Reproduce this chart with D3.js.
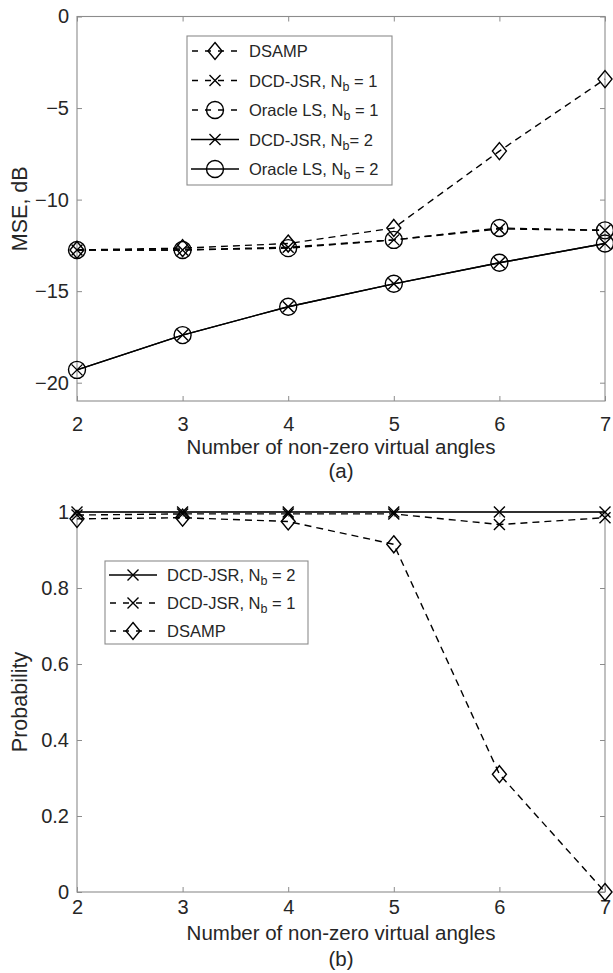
<!DOCTYPE html>
<html><head><meta charset="utf-8">
<script src="https://cdn.jsdelivr.net/npm/d3@7"></script>
<style>body{margin:0;background:#fff;} svg{display:block;} text{font-family:"Liberation Sans",Arial,sans-serif;fill:#262626;}</style>
</head><body>
<svg id="c" width="613" height="973"></svg>
<script>
const xVals = [2, 3, 4, 5, 6, 7];
// (a) MSE, dB
const mseDSAMP = [-12.75, -12.65, -12.4, -11.55, -7.35, -3.42];
const mseDCD1 = [-12.75, -12.75, -12.6, -12.2, -11.6, -11.68];
const mseOLS1 = [-12.75, -12.75, -12.65, -12.2, -11.55, -11.68];
const mseDCD2 = [-19.3, -17.4, -15.85, -14.6, -13.45, -12.4];
const mseOLS2 = [-19.3, -17.4, -15.85, -14.6, -13.45, -12.4];
const mseTicks = [0, -5, -10, -15, -20];
// (b) Probability
const probDCD2 = [1, 1, 1, 1, 1, 1];
const probDCD1 = [0.992, 0.995, 0.995, 0.995, 0.967, 0.985];
const probDSAMP = [0.982, 0.985, 0.975, 0.915, 0.31, 0.0];
const probTicks = [0, 0.2, 0.4, 0.6, 0.8, 1];

const svg = d3.select("#c");
const DASH = "7,5";

function marker(g, type, cx, cy) {
  if (type === "diamond") {
    g.append("path").attr("d", `M${cx},${cy-8.5}L${cx+7},${cy}L${cx},${cy+8.5}L${cx-7},${cy}Z`)
      .attr("fill", "none").attr("stroke", "#000").attr("stroke-width", 1.4);
  } else if (type === "x") {
    const s = 5.5;
    g.append("path").attr("d", `M${cx-s},${cy-s}L${cx+s},${cy+s}M${cx-s},${cy+s}L${cx+s},${cy-s}`)
      .attr("stroke", "#000").attr("stroke-width", 1.4).attr("fill", "none");
  } else if (type === "circle") {
    g.append("circle").attr("cx", cx).attr("cy", cy).attr("r", 8.5)
      .attr("fill", "none").attr("stroke", "#000").attr("stroke-width", 1.4);
  }
}

function panel(opt) {
  const {top, bottom, domain, ticks, series, ylabel, xlabY, xtlY, capY, caption, legend, tickFmt} = opt;
  const x = d3.scaleLinear().domain([2, 7]).range([77, 605]);
  const y = d3.scaleLinear().domain(domain).range([bottom, top]);
  const g = svg.append("g");
  g.append("rect").attr("x", 77).attr("y", top).attr("width", 528).attr("height", bottom - top)
    .attr("fill", "none").attr("stroke", "#8c8c8c").attr("stroke-width", 1.1);
  const ax = g.append("g").attr("transform", `translate(0,${bottom})`)
    .call(d3.axisBottom(x).tickValues(xVals).tickSizeInner(-5).tickSizeOuter(0).tickPadding(16).tickFormat(d3.format("d")));
  ax.select(".domain").remove();
  ax.selectAll("line").attr("stroke", "#8c8c8c");
  ax.selectAll("text").attr("font-size", 20).attr("fill", "#262626").attr("dy", null)
    .attr("y", xtlY - bottom).attr("dominant-baseline", "central");
  const axT = g.append("g").attr("transform", `translate(0,${top})`)
    .call(d3.axisTop(x).tickValues(xVals).tickSizeInner(-5).tickSizeOuter(0).tickFormat(""));
  axT.select(".domain").remove(); axT.selectAll("line").attr("stroke", "#8c8c8c");
  const ay = g.append("g").attr("transform", `translate(77,0)`)
    .call(d3.axisLeft(y).tickValues(ticks).tickSizeInner(-5).tickSizeOuter(0).tickPadding(8).tickFormat(tickFmt));
  ay.select(".domain").remove();
  ay.selectAll("line").attr("stroke", "#8c8c8c");
  ay.selectAll("text").attr("font-size", 20).attr("fill", "#262626");
  const ayR = g.append("g").attr("transform", `translate(605,0)`)
    .call(d3.axisRight(y).tickValues(ticks).tickSizeInner(-5).tickSizeOuter(0).tickFormat(""));
  ayR.select(".domain").remove(); ayR.selectAll("line").attr("stroke", "#8c8c8c");
  g.append("text").attr("x", 341).attr("y", xlabY).attr("text-anchor", "middle").attr("dominant-baseline", "central")
    .attr("font-size", 20.5).text("Number of non-zero virtual angles");
  g.append("text").attr("x", 341).attr("y", capY).attr("text-anchor", "middle").attr("dominant-baseline", "central")
    .attr("font-size", 20.5).text(caption);
  g.append("text").attr("transform", `translate(20,${(top + bottom) / 2}) rotate(-90)`).attr("text-anchor", "middle")
    .attr("dominant-baseline", "central").attr("font-size", 21.5).text(ylabel);
  const line = d3.line().x((d, i) => x(xVals[i])).y(d => y(d));
  series.forEach(s => {
    g.append("path").datum(s.values).attr("d", line).attr("fill", "none").attr("stroke", "#000")
      .attr("stroke-width", 1.4).attr("stroke-dasharray", s.dash ? DASH : null);
  });
  series.forEach(s => {
    s.values.forEach((v, i) => marker(g, s.marker, x(xVals[i]), y(v)));
  });
  const L = legend;
  const lg = g.append("g");
  lg.append("rect").attr("x", L.x).attr("y", L.y).attr("width", L.w).attr("height", L.h)
    .attr("fill", "#fff").attr("stroke", "#8c8c8c").attr("stroke-width", 1.1);
  L.items.forEach((it, i) => {
    const cy = L.y + L.pad + i * L.step;
    lg.append("line").attr("x1", L.x + 4).attr("x2", L.x + 52).attr("y1", cy).attr("y2", cy)
      .attr("stroke", "#000").attr("stroke-width", 1.4).attr("stroke-dasharray", it.dash ? "6,7" : null)
      .attr("stroke-dashoffset", it.dash ? -1 : null);
    marker(lg, it.marker, L.x + 28, cy);
    const t = lg.append("text").attr("x", L.x + 62).attr("y", cy).attr("dominant-baseline", "central").attr("font-size", 16.5);
    t.append("tspan").text(it.label);
    if (it.sub) {
      t.append("tspan").attr("font-size", 12.5).attr("dy", 6).text(it.sub);
      t.append("tspan").attr("dy", -6).text(it.post);
    }
  });
}

panel({
  top: 16.5, bottom: 401, domain: [-21, 0], ticks: mseTicks, ylabel: "MSE, dB",
  xtlY: 424, xlabY: 446, capY: 470, caption: "(a)", tickFmt: d3.format("d"),
  series: [
    {values: mseDSAMP, dash: true, marker: "diamond"},
    {values: mseDCD1, dash: true, marker: "x"},
    {values: mseOLS1, dash: true, marker: "circle"},
    {values: mseDCD2, dash: false, marker: "x"},
    {values: mseOLS2, dash: false, marker: "circle"}
  ],
  legend: {x: 187, y: 36, w: 205, h: 149, pad: 15, step: 29.5, items: [
    {label: "DSAMP", dash: true, marker: "diamond"},
    {label: "DCD-JSR, N", sub: "b", post: " = 1", dash: true, marker: "x"},
    {label: "Oracle LS, N", sub: "b", post: " = 1", dash: true, marker: "circle"},
    {label: "DCD-JSR, N", sub: "b", post: "= 2", dash: false, marker: "x"},
    {label: "Oracle LS, N", sub: "b", post: " = 2", dash: false, marker: "circle"}
  ]}
});

panel({
  top: 512, bottom: 892, domain: [0, 1], ticks: probTicks, ylabel: "Probability",
  xtlY: 907, xlabY: 932, capY: 958, caption: "(b)", tickFmt: d => d === 0 || d === 1 ? String(d) : d3.format(".1f")(d),
  series: [
    {values: probDCD2, dash: false, marker: "x"},
    {values: probDCD1, dash: true, marker: "x"},
    {values: probDSAMP, dash: true, marker: "diamond"}
  ],
  legend: {x: 105, y: 561, w: 203, h: 83, pad: 14, step: 28, items: [
    {label: "DCD-JSR, N", sub: "b", post: " = 2", dash: false, marker: "x"},
    {label: "DCD-JSR, N", sub: "b", post: " = 1", dash: true, marker: "x"},
    {label: "DSAMP", dash: true, marker: "diamond"}
  ]}
});
</script>
</body></html>
